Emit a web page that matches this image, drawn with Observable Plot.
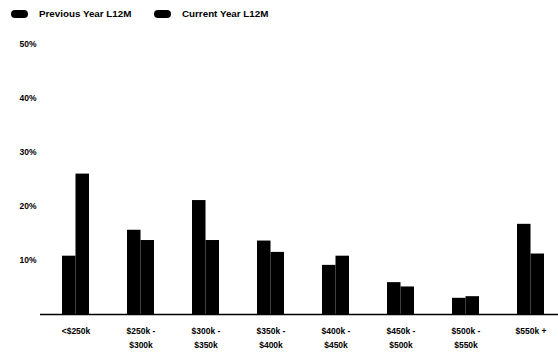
<!DOCTYPE html>
<html>
<head>
<meta charset="utf-8">
<script src="https://cdn.jsdelivr.net/npm/d3@7"></script>
<script src="https://cdn.jsdelivr.net/npm/@observablehq/plot@0.6"></script>
<style>
  html, body { margin: 0; padding: 0; background: #fff; }
  body { width: 558px; height: 356px; overflow: hidden; font-family: "Liberation Sans", Arial, sans-serif; }
  #legend { position: relative; height: 26px; font-weight: bold; font-size: 9.8px; color: #000; }
  .item { position: absolute; top: 8px; display: flex; align-items: center; white-space: nowrap; }
  .sw { width: 17px; height: 8px; border-radius: 4px; background: #000; margin-right: 11px; }
  svg { display: block; }
</style>
</head>
<body>
<div id="legend"></div>
<div id="chart"></div>
<script>
const categories = ["<$250k", "$250k -\n$300k", "$300k -\n$350k", "$350k -\n$400k", "$400k -\n$450k", "$450k -\n$500k", "$500k -\n$550k", "$550k +"];
const seriesNames = ["Previous Year L12M", "Current Year L12M"];
const previousYear = [10.8, 15.6, 21.1, 13.6, 9.1, 5.9, 3.0, 16.7];
const currentYear = [26.0, 13.7, 13.7, 11.5, 10.8, 5.1, 3.3, 11.2];
const yTicks = [0.1, 0.2, 0.3, 0.4, 0.5];
const seriesColors = ["#000000", "#000000"];

const legend = document.getElementById("legend");
const legendX = [11, 154];
seriesNames.forEach((name, i) => {
  const it = document.createElement("div");
  it.className = "item";
  it.style.left = legendX[i] + "px";
  it.innerHTML = `<span class="sw" style="background:${seriesColors[i]}"></span><span>${name}</span>`;
  legend.appendChild(it);
});

const prevData = categories.map((c, i) => ({category: c, value: previousYear[i] / 100}));
const currData = categories.map((c, i) => ({category: c, value: currentYear[i] / 100}));

const chart = Plot.plot({
  width: 558,
  height: 330,
  marginLeft: 40,
  marginRight: 0,
  marginTop: 18,
  marginBottom: 42,
  style: {fontFamily: "Liberation Sans, Arial, sans-serif", fontWeight: "bold", fontSize: "8px", background: "#fff", color: "#000"},
  x: {type: "band", domain: categories, paddingInner: 0.587, paddingOuter: 0.25, align: 0.61, axis: null, label: null},
  y: {domain: [0, 0.5], axis: null, label: null},
  marks: [
    Plot.barY(prevData, {x: "category", y: "value", fill: seriesColors[0], insetRight: 13.5}),
    Plot.barY(currData, {x: "category", y: "value", fill: seriesColors[1], insetLeft: 13.5}),
    Plot.ruleY([0], {stroke: "#000", strokeWidth: 1.5}),
    Plot.axisY({ticks: yTicks, tickSize: 0, tickPadding: 4, tickFormat: d3.format(".0%"), fontSize: 8.5, fontWeight: "bold", fill: "#000", label: null}),
    Plot.axisX({tickSize: 0, tickPadding: 10, fontSize: 8.5, fontWeight: "bold", lineHeight: 1.65, fill: "#000", label: null})
  ]
});
document.getElementById("chart").appendChild(chart);
</script>
</body>
</html>
